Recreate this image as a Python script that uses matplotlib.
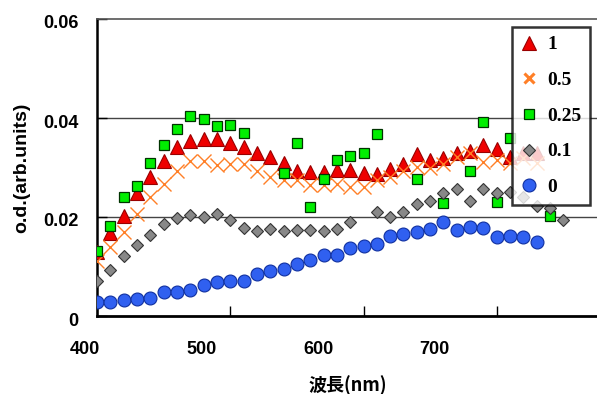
import numpy as np
import matplotlib
matplotlib.use("Agg")
import matplotlib.pyplot as plt
import matplotlib.transforms as mtrans

nan = np.nan
wavelength = list(range(400, 760, 10))

s_1 = [0.0130, 0.0167, 0.0202, 0.0249, 0.0280, 0.0314, 0.0342, 0.0354, 0.0358, 0.0357,
       0.0349, 0.0342, 0.0329, 0.0322, 0.0310, 0.0292, 0.0290, 0.0290, 0.0294, 0.0294,
       0.0288, 0.0287, 0.0296, 0.0308, 0.0327, 0.0315, 0.0319, 0.0330, 0.0334, 0.0345,
       0.0337, 0.0322, 0.0330, 0.0330, nan, nan]
s_05 = [0.0112, 0.0140, 0.0170, 0.0207, 0.0240, 0.0267, 0.0292, 0.0313, 0.0313, 0.0306,
        0.0307, 0.0307, 0.0292, 0.0281, 0.0275, 0.0275, 0.0265, 0.0265, 0.0267, 0.0261,
        0.0261, 0.0275, 0.0281, 0.0292, 0.0302, 0.0298, 0.0308, 0.0322, 0.0330, 0.0312,
        0.0315, 0.0310, 0.0320, 0.0310, nan, nan]
s_025 = [0.0132, 0.0182, 0.0241, 0.0263, 0.0310, 0.0345, 0.0377, 0.0404, 0.0397, 0.0383,
         0.0385, 0.0369, nan, nan, 0.0288, 0.0349, 0.0221, 0.0277, 0.0315, 0.0323,
         0.0330, 0.0368, nan, nan, 0.0277, nan, 0.0229, nan, 0.0292, 0.0391,
         0.0230, 0.0359, nan, nan, 0.0202, nan]
s_01 = [0.0071, 0.0092, 0.0121, 0.0143, 0.0164, 0.0186, 0.0197, 0.0205, 0.0200, 0.0207,
        0.0194, 0.0178, 0.0172, 0.0175, 0.0172, 0.0174, 0.0174, 0.0172, 0.0176, 0.0189,
        nan, 0.0211, 0.0201, 0.0211, 0.0226, 0.0232, 0.0249, 0.0256, 0.0233, 0.0257,
        0.0248, 0.0250, 0.0240, 0.0222, 0.0218, 0.0193]
s_0 = [0.0028, 0.0028, 0.0033, 0.0034, 0.0037, 0.0048, 0.0048, 0.0052, 0.0063, 0.0068,
       0.0071, 0.0071, 0.0085, 0.0090, 0.0094, 0.0106, 0.0113, 0.0123, 0.0124, 0.0138,
       0.0142, 0.0146, 0.0161, 0.0165, 0.0170, 0.0176, 0.0189, 0.0174, 0.0179, 0.0178,
       0.0160, 0.0162, 0.0160, 0.0149, nan, nan]

labels = ["1", "0.5", "0.25", "0.1", "0"]
x_ticks = [400, 500, 600, 700]
x_ticklabels = ["400", "500", "600", "700"]
y_ticks = [0, 0.02, 0.04, 0.06]
y_ticklabels = ["0", "0.02", "0.04", "0.06"]

W, H = 597, 394
fig = plt.figure(figsize=(W/100, H/100), dpi=100)
ax = fig.add_axes([97/W, 78/H, 533/W, 297/H])

ax.plot(wavelength, s_1, linestyle="none", marker="^", ms=9.5, mfc="#ee0000",
        mec="#990000", mew=0.8, label=labels[0], zorder=3)
ax.plot(wavelength, s_05, linestyle="none", marker="x", ms=10.5, color="#ff7f27",
        mew=1.0, label=labels[1], zorder=3)
ax.plot(wavelength, s_025, linestyle="none", marker="s", ms=7.2, mfc="#00ee00",
        mec="#003300", mew=0.9, label=labels[2], zorder=4)
ax.plot(wavelength, s_01, linestyle="none", marker="D", ms=6.5, mfc="#888888",
        mec="#333333", mew=0.8, label=labels[3], zorder=4)
ax.plot(wavelength, s_0, linestyle="none", marker="o", ms=9.3, mfc="#3060f0",
        mec="#1030a0", mew=0.8, label=labels[4], zorder=4)

ax.set_xlim(400, 800)
ax.set_ylim(0, 0.06)
ax.set_xticks(x_ticks)
ax.set_xticklabels([])
ax.set_yticks(y_ticks)
ax.set_yticklabels(y_ticklabels)
for y in y_ticks[1:3]:
    ax.axhline(y, color="#444444", lw=1.0, zorder=1)

ax.spines["top"].set_color("#555555")
ax.spines["top"].set_linewidth(1.2)
ax.spines["right"].set_visible(False)
ax.spines["left"].set_linewidth(1.8)
ax.spines["bottom"].set_linewidth(2.0)
ax.tick_params(direction="in", length=7, width=1)
ax.tick_params(axis="y", pad=13.5)

shift = mtrans.ScaledTranslation(0, -3/100, fig.dpi_scale_trans)
for lab in ax.get_yticklabels():
    lab.set_fontfamily(["Liberation Sans", "DejaVu Sans"])
    lab.set_fontweight("bold")
    lab.set_fontsize(13)
    lab.set_transform(lab.get_transform() + shift)

# x tick labels are spaced slightly tighter than the ticks in the original export
for v, t in zip(x_ticks, x_ticklabels):
    xp = 85 + (v - x_ticks[0]) * 1.165
    fig.text(xp/W, 1 - 350/H, t, ha="center", va="center", fontsize=13,
             fontweight="bold", family=["Liberation Sans", "DejaVu Sans"])

fig.text(22/W, 1 - 168/H, "o.d.(arb.units)", rotation=90, ha="center", va="center",
         fontsize=14, fontweight="bold", family=["Liberation Sans", "DejaVu Sans"])
fig.text(348/W, 1 - 385/H, "波長(nm)", ha="center", va="center",
         fontsize=13, fontweight="bold", family=["Noto Sans CJK JP", "DejaVu Sans"])

leg = ax.legend(loc="upper left", bbox_to_anchor=(512/W, 1 - 27/H),
                bbox_transform=fig.transFigure, borderaxespad=0,
                prop={"family": "Liberation Serif", "weight": "bold", "size": 14},
                frameon=True, fancybox=False, edgecolor="black",
                handlelength=0.8, handletextpad=0.55, labelspacing=0.93,
                borderpad=0.45, numpoints=1)
leg.get_frame().set_linewidth(1.8)
leg.set_zorder(10)
leg.legend_handles[1].set_markersize(7)
leg.legend_handles[1].set_markeredgewidth(2.2)

fig.savefig("out.png", dpi=100)
